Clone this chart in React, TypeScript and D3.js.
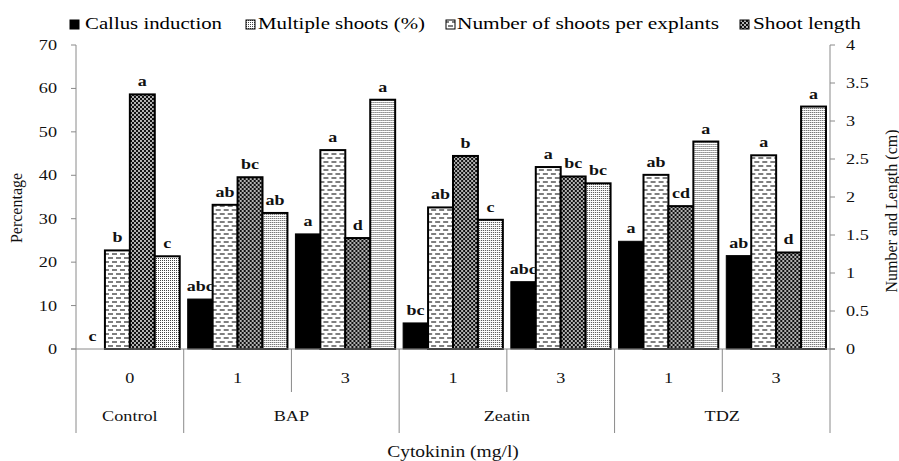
import React from "react";
import * as d3 from "d3";

// treatments along the x axis
const treatmentGroup = ["Control", "BAP", "BAP", "Zeatin", "Zeatin", "TDZ", "TDZ"];
const treatmentDose = ["0", "1", "3", "1", "3", "1", "3"];
const groupNames = ["Control", "BAP", "Zeatin", "TDZ"];

const seriesNames = [
  "Callus induction",
  "Multiple shoots (%)",
  "Number of shoots per explants",
  "Shoot length",
];

// left axis (%)
const callusInduction = [0, 11.5, 26.5, 6.0, 15.5, 24.8, 21.5];
const multipleShoots = [22.7, 33.2, 45.8, 32.6, 41.9, 40.1, 44.6];
// right axis (number / cm)
const shootsPerExplant = [3.35, 2.26, 1.46, 2.54, 2.27, 1.88, 1.27];
const shootLength = [1.22, 1.79, 3.28, 1.7, 2.18, 2.73, 3.19];

const callusLetters = ["c", "abc", "a", "bc", "abc", "a", "ab"];
const multipleLetters = ["b", "ab", "a", "ab", "a", "ab", "a"];
const numberLetters = ["a", "bc", "d", "b", "bc", "cd", "d"];
const lengthLetters = ["c", "ab", "a", "c", "bc", "a", "a"];

const leftTicks = [0, 10, 20, 30, 40, 50, 60, 70];
const rightTicks = [0, 0.5, 1, 1.5, 2, 2.5, 3, 3.5, 4];

const W = 899;
const H = 461;
const plot = { left: 76, right: 830, top: 45, bottom: 349 };
const SX = 1.3; // the reference's text is stretched sideways
const serif = "Liberation Serif, serif";
const axisGrey = "#8a8a8a";

const Txt = ({ x, y, children, size = 14, anchor = "middle", weight = "normal", sx = SX }: any) => (
  <text
    transform={`translate(${x},${y}) scale(${sx},1)`}
    textAnchor={anchor}
    fontSize={size}
    fontWeight={weight}
    fill="#111"
    style={{ fontFamily: serif }}
  >
    {children}
  </text>
);

export default function App() {
  const keys = treatmentGroup.map((g, i) => `${g}-${i}`);
  const x0 = d3.scaleBand<string>().domain(keys).range([plot.left, plot.right]).padding(0);
  const x1 = d3
    .scaleBand<number>()
    .domain([0, 1, 2, 3])
    .range([0, x0.bandwidth()])
    .paddingInner(0)
    .paddingOuter(0.16);
  const yLeft = d3.scaleLinear().domain([0, 70]).range([plot.bottom, plot.top]);
  const yRight = d3.scaleLinear().domain([0, 4]).range([plot.bottom, plot.top]);

  const series = [
    { values: callusInduction, letters: callusLetters, y: yLeft, fill: "#000", sw: 1 },
    { values: multipleShoots, letters: multipleLetters, y: yLeft, fill: "url(#pDash)", sw: 2 },
    { values: shootsPerExplant, letters: numberLetters, y: yRight, fill: "url(#pConfetti)", sw: 2 },
    { values: shootLength, letters: lengthLetters, y: yRight, fill: "url(#pGrid)", sw: 2 },
  ];

  // legend icons as they appear in the reference
  const legendIcons = ["#000", "url(#pGrid)", "url(#pDash)", "url(#pConfetti)"];
  const legendIconX = [70, 246, 446, 740];
  const legendTextX = [85, 258, 457, 753];
  const legendTextW = [137, 167, 262, 108];

  // group spans for the bottom labels
  const groupSpans = groupNames.map((g) => {
    const idx = keys.filter((k) => k.startsWith(g + "-"));
    const start = x0(idx[0])!;
    const end = x0(idx[idx.length - 1])! + x0.bandwidth();
    return { g, start, end };
  });

  return (
    <svg width={W} height={H} style={{ position: "absolute", left: 0, top: 0, background: "#fff" }}>
      <defs>
        <pattern id="pDash" patternUnits="userSpaceOnUse" width={8} height={8}>
          <rect width={8} height={8} fill="#fff" />
          <rect x={0} y={1.5} width={5} height={1} fill="#000" />
          <rect x={4} y={5.5} width={4} height={1} fill="#000" />
          <rect x={0} y={5.5} width={1} height={1} fill="#000" />
        </pattern>
        <pattern id="pConfetti" patternUnits="userSpaceOnUse" width={4} height={4}>
          <rect width={4} height={4} fill="#111" />
          <circle cx={1} cy={1} r={0.9} fill="#fff" />
          <circle cx={3} cy={3} r={0.9} fill="#fff" />
        </pattern>
        <pattern id="pGrid" patternUnits="userSpaceOnUse" width={2} height={2}>
          <rect width={2} height={2} fill="#fff" />
          <rect width={1} height={1} fill="#444" />
        </pattern>
      </defs>

      {/* legend */}
      {seriesNames.map((name, i) => (
        <g key={name}>
          <rect
            x={legendIconX[i]}
            y={20}
            width={9}
            height={9}
            fill={legendIcons[i]}
            stroke="#000"
            strokeWidth={1}
          />
          <text
            x={legendTextX[i]}
            y={29}
            fontSize={17}
            textLength={legendTextW[i]}
            lengthAdjust="spacingAndGlyphs"
            fill="#000"
            style={{ fontFamily: serif }}
          >
            {name}
          </text>
        </g>
      ))}

      {/* bars */}
      {keys.map((k, i) => (
        <g key={k} transform={`translate(${x0(k)},0)`}>
          {series.map((s, j) => {
            const top = s.y(s.values[i]);
            return (
              <rect
                key={j}
                x={x1(j)!}
                y={top}
                width={x1.bandwidth()}
                height={plot.bottom - top}
                fill={s.fill}
                stroke="#000"
                strokeWidth={s.values[i] > 0 ? s.sw : 0}
              />
            );
          })}
          {series.map((s, j) => (
            <Txt key={"l" + j} x={x1(j)! + x1.bandwidth() / 2} y={s.y(s.values[i]) - 8} size={15} weight="bold" sx={1.2}>
              {s.letters[i]}
            </Txt>
          ))}
        </g>
      ))}

      {/* left axis */}
      <line x1={plot.left} x2={plot.left} y1={plot.top} y2={plot.bottom} stroke={axisGrey} />
      {leftTicks.map((t) => (
        <g key={t}>
          <line x1={plot.left - 5} x2={plot.left} y1={yLeft(t)} y2={yLeft(t)} stroke={axisGrey} />
          <Txt x={57} y={yLeft(t) + 5} anchor="end" size={14}>
            {t}
          </Txt>
        </g>
      ))}

      {/* right axis */}
      <line x1={plot.right} x2={plot.right} y1={plot.top} y2={plot.bottom} stroke={axisGrey} />
      {rightTicks.map((t) => (
        <g key={t}>
          <line x1={plot.right} x2={plot.right + 5} y1={yRight(t)} y2={yRight(t)} stroke={axisGrey} />
          <Txt x={846} y={yRight(t) + 5} anchor="start" size={14}>
            {d3.format("~g")(t)}
          </Txt>
        </g>
      ))}

      {/* category axis */}
      <line x1={plot.left - 5} x2={plot.right + 5} y1={plot.bottom} y2={plot.bottom} stroke={axisGrey} />
      {keys.map((k, i) => {
        const xs = x0(k)!;
        const groupStart = i === 0 || treatmentGroup[i] !== treatmentGroup[i - 1];
        return (
          <g key={"c" + k}>
            <line x1={xs} x2={xs} y1={plot.bottom} y2={groupStart ? 433 : 392} stroke={axisGrey} />
            <Txt x={xs + x0.bandwidth() / 2} y={383} size={14}>
              {treatmentDose[i]}
            </Txt>
          </g>
        );
      })}
      <line x1={plot.right} x2={plot.right} y1={plot.bottom} y2={433} stroke={axisGrey} />
      {groupSpans.map((s) => (
        <Txt key={s.g} x={(s.start + s.end) / 2} y={421} size={14}>
          {s.g}
        </Txt>
      ))}
      <Txt x={(plot.left + plot.right) / 2} y={457} size={16} sx={1.22}>
        Cytokinin (mg/l)
      </Txt>

      {/* axis titles */}
      <text
        transform={`translate(22,208) rotate(-90)`}
        textAnchor="middle"
        fontSize={16}
        fill="#111"
        style={{ fontFamily: serif }}
      >
        Percentage
      </text>
      <text
        transform={`translate(897,211) rotate(-90)`}
        textAnchor="middle"
        fontSize={16}
        fill="#111"
        style={{ fontFamily: serif }}
      >
        Number and Length (cm)
      </text>
    </svg>
  );
}
